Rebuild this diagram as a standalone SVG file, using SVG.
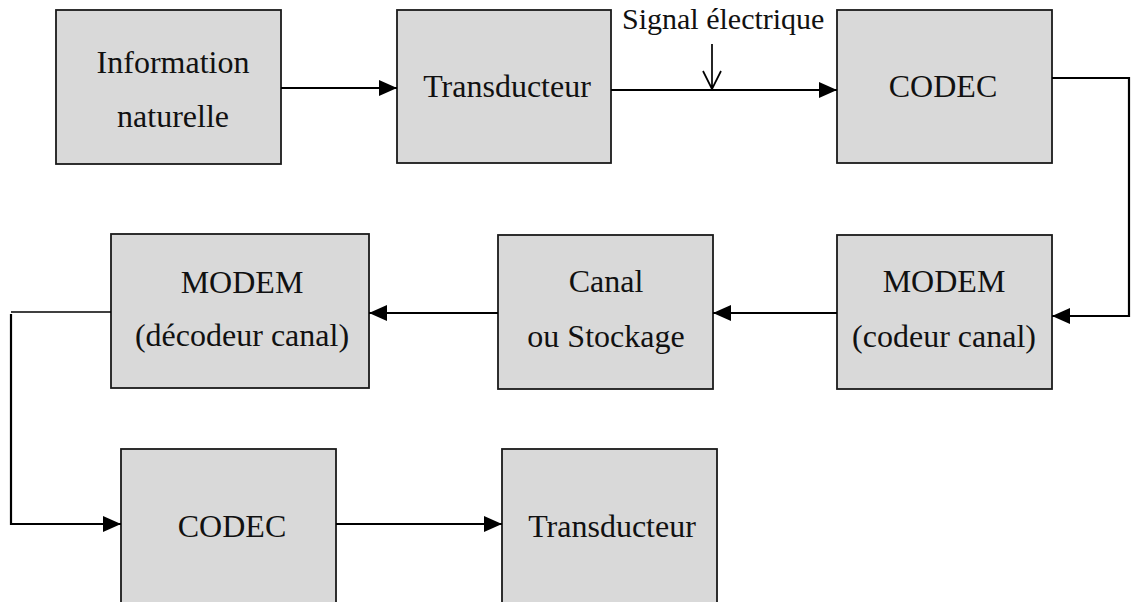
<svg xmlns="http://www.w3.org/2000/svg" width="1133" height="602" viewBox="0 0 1133 602">
  <style>
    .box { fill: #d9d9d9; stroke: #1a1a1a; stroke-width: 1.8; }
    .lbl { font-size: 32px; fill: #111; text-anchor: middle; }
    .sig { font-size: 30px; fill: #111; }
    .wire { fill: none; stroke: #000; stroke-width: 2.2; }
    .thin { fill: none; stroke: #000; stroke-width: 1.7; }
  </style>
  <defs>
    <marker id="head" viewBox="0 0 18 16" refX="18" refY="8" markerWidth="18" markerHeight="16" markerUnits="userSpaceOnUse" orient="auto">
      <path d="M0,0 L18,8 L0,16 z" fill="#000"/>
    </marker>
  </defs>

  <g font-family="'Liberation Serif', 'Times New Roman', Tinos, 'DejaVu Serif', serif">
    <!-- top row -->
    <g id="info">
      <rect class="box" x="56" y="10" width="225" height="154"/>
      <text class="lbl" x="173" y="73">Information</text>
      <text class="lbl" x="173" y="127">naturelle</text>
    </g>
    <g id="transducteur-emission">
      <rect class="box" x="397" y="10" width="214" height="153"/>
      <text class="lbl" x="507" y="97">Transducteur</text>
    </g>
    <g id="codec-emission">
      <rect class="box" x="837" y="10" width="215" height="153"/>
      <text class="lbl" x="943" y="97">CODEC</text>
    </g>

    <!-- middle row -->
    <g id="modem-decodeur">
      <rect class="box" x="111" y="234" width="258" height="154"/>
      <text class="lbl" x="242" y="293">MODEM</text>
      <text class="lbl" x="242" y="346">(décodeur canal)</text>
    </g>
    <g id="canal">
      <rect class="box" x="498" y="235" width="215" height="154"/>
      <text class="lbl" x="606" y="292">Canal</text>
      <text class="lbl" x="606" y="347">ou Stockage</text>
    </g>
    <g id="modem-codeur">
      <rect class="box" x="837" y="235" width="215" height="154"/>
      <text class="lbl" x="944" y="292">MODEM</text>
      <text class="lbl" x="944" y="347">(codeur canal)</text>
    </g>

    <!-- bottom row -->
    <g id="codec-reception">
      <rect class="box" x="121" y="449" width="215" height="170"/>
      <text class="lbl" x="232" y="537">CODEC</text>
    </g>
    <g id="transducteur-reception">
      <rect class="box" x="502" y="449" width="215" height="170"/>
      <text class="lbl" x="612" y="537">Transducteur</text>
    </g>

    <!-- signal label -->
    <g id="signal">
      <text class="sig" x="622" y="29">Signal électrique</text>
      <path class="thin" d="M712,44 V89 M703,71 L712,89 L721,71"/>
    </g>
  </g>

  <!-- connectors -->
  <g id="connectors">
    <path class="wire" d="M281,88 H397" marker-end="url(#head)"/>
    <path class="wire" d="M611,90 H837" marker-end="url(#head)"/>
    <path class="wire" d="M1052,78 H1129 V316 H1052" marker-end="url(#head)"/>
    <path class="wire" d="M837,313 H713" marker-end="url(#head)"/>
    <path class="wire" d="M498,313 H369" marker-end="url(#head)"/>
    <path class="thin" d="M111,312 H11"/>
    <path class="wire" d="M11,314 V524 H121" marker-end="url(#head)"/>
    <path class="wire" d="M336,524 H502" marker-end="url(#head)"/>
  </g>
</svg>
